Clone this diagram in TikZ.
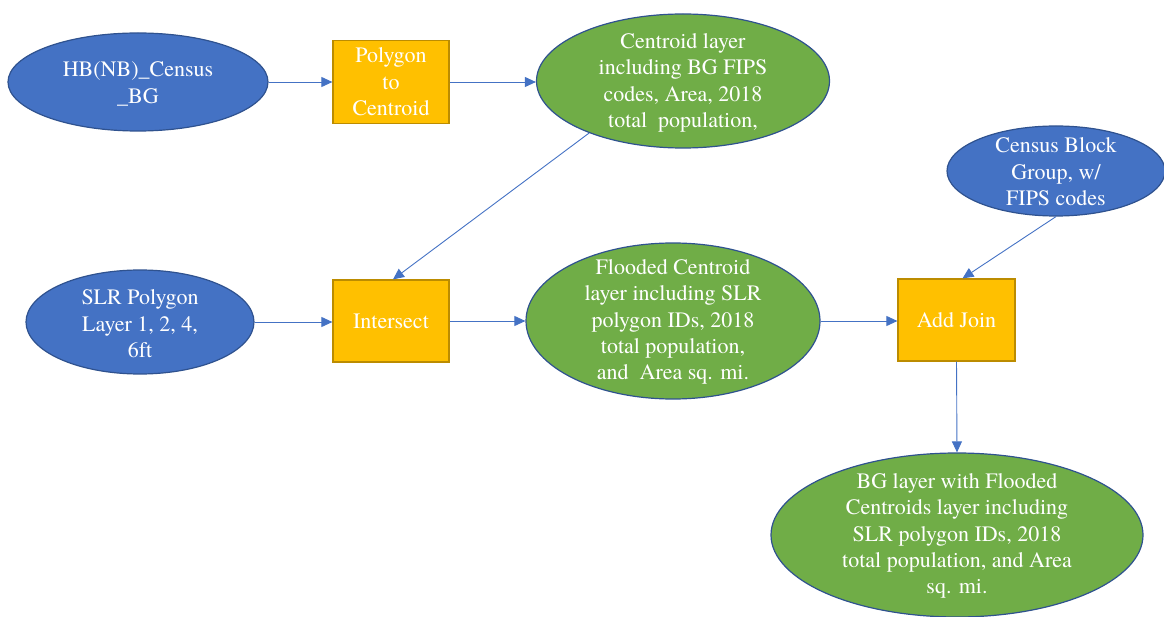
\documentclass[tikz,border=0pt]{standalone}
\usepackage{fontspec}
\setmainfont{TeX Gyre Termes}
\usetikzlibrary{arrows.meta,shapes.geometric}
\definecolor{blueF}{HTML}{4472C4}
\definecolor{edgeB}{HTML}{2F528F}
\definecolor{orangeF}{HTML}{FFC000}
\definecolor{orangeE}{HTML}{BC8C00}
\definecolor{greenF}{HTML}{70AD47}
\tikzset{
  blueell/.style={ellipse, fill=blueF, draw=edgeB, line width=1.2pt, inner sep=0pt},
  greenell/.style={ellipse, fill=greenF, draw=edgeB, line width=1.2pt, inner sep=0pt},
  lbl/.style={text=white, align=center, font=\rmfamily\fontsize{22}{26.4}\selectfont, inner sep=0pt},
  procbox/.style={rectangle, fill=orangeF, draw=orangeE, line width=1.2pt, inner sep=0pt, lbl},
  conn/.style={draw=blueF, line width=0.9pt, -{Triangle[length=11pt,width=10pt]}}
}
\begin{document}
\begin{tikzpicture}[x=1pt,y=-1pt]
\useasboundingbox (0,0) rectangle (1164,617);
% row 1
\node[blueell, minimum width=260pt, minimum height=98pt] (hb) at (138,82) {};
\node[lbl] (hbT) at (138,84) {HB(NB)\_Census\\\_BG};
\node[procbox, minimum width=116pt, minimum height=83pt] (p2c) at (391,82) {Polygon\\to\\Centroid};
\node[greenell, minimum width=293pt, minimum height=134pt] (cent) at (683,81) {};
\node[lbl] (centT) at (683,83) {Centroid layer\\including BG FIPS\\codes, Area, 2018\\total~ population,};
% census block group
\node[blueell, minimum width=218pt, minimum height=90pt] (census) at (1056,171) {};
\node[lbl] (censusT) at (1056,172) {Census Block\\Group, w/\\FIPS codes};
% row 2
\node[blueell, minimum width=228pt, minimum height=104pt] (slr) at (140,322) {};
\node[lbl] (slrT) at (140,324) {SLR Polygon\\Layer 1, 2, 4,\\6ft};
\node[procbox, minimum width=116pt, minimum height=82pt] (inter) at (391,321) {Intersect};
\node[greenell, minimum width=294pt, minimum height=156pt] (flood) at (673,321) {};
\node[lbl] (floodT) at (673,322) {Flooded Centroid\\layer including SLR\\polygon IDs, 2018\\total population,\\and~ Area sq. mi.};
\node[procbox, minimum width=117pt, minimum height=82pt] (aj) at (956.5,320) {Add Join};
% bottom
\node[greenell, minimum width=372pt, minimum height=164pt] (bg) at (957,535) {};
\node[lbl] (bgT) at (957,536) {BG layer with Flooded\\Centroids layer including\\SLR polygon IDs, 2018\\total population, and Area\\sq. mi.};
% connectors
\draw[conn] (hb.east) -- (p2c.west);
\draw[conn] (p2c.east) -- (p2c.east -| cent.west);
\draw[conn] (cent.209) -- ([xshift=2pt]inter.north);
\draw[conn] (slr.east) -- (slr.east -| inter.west);
\draw[conn] (inter.east) -- (inter.east -| flood.west);
\draw[conn] (flood.east) -- (flood.east -| aj.west);
\draw[conn] (census.south) -- ([xshift=6pt]aj.north);
\draw[conn] (aj.south) -- (bg.north);
\end{tikzpicture}
\end{document}
